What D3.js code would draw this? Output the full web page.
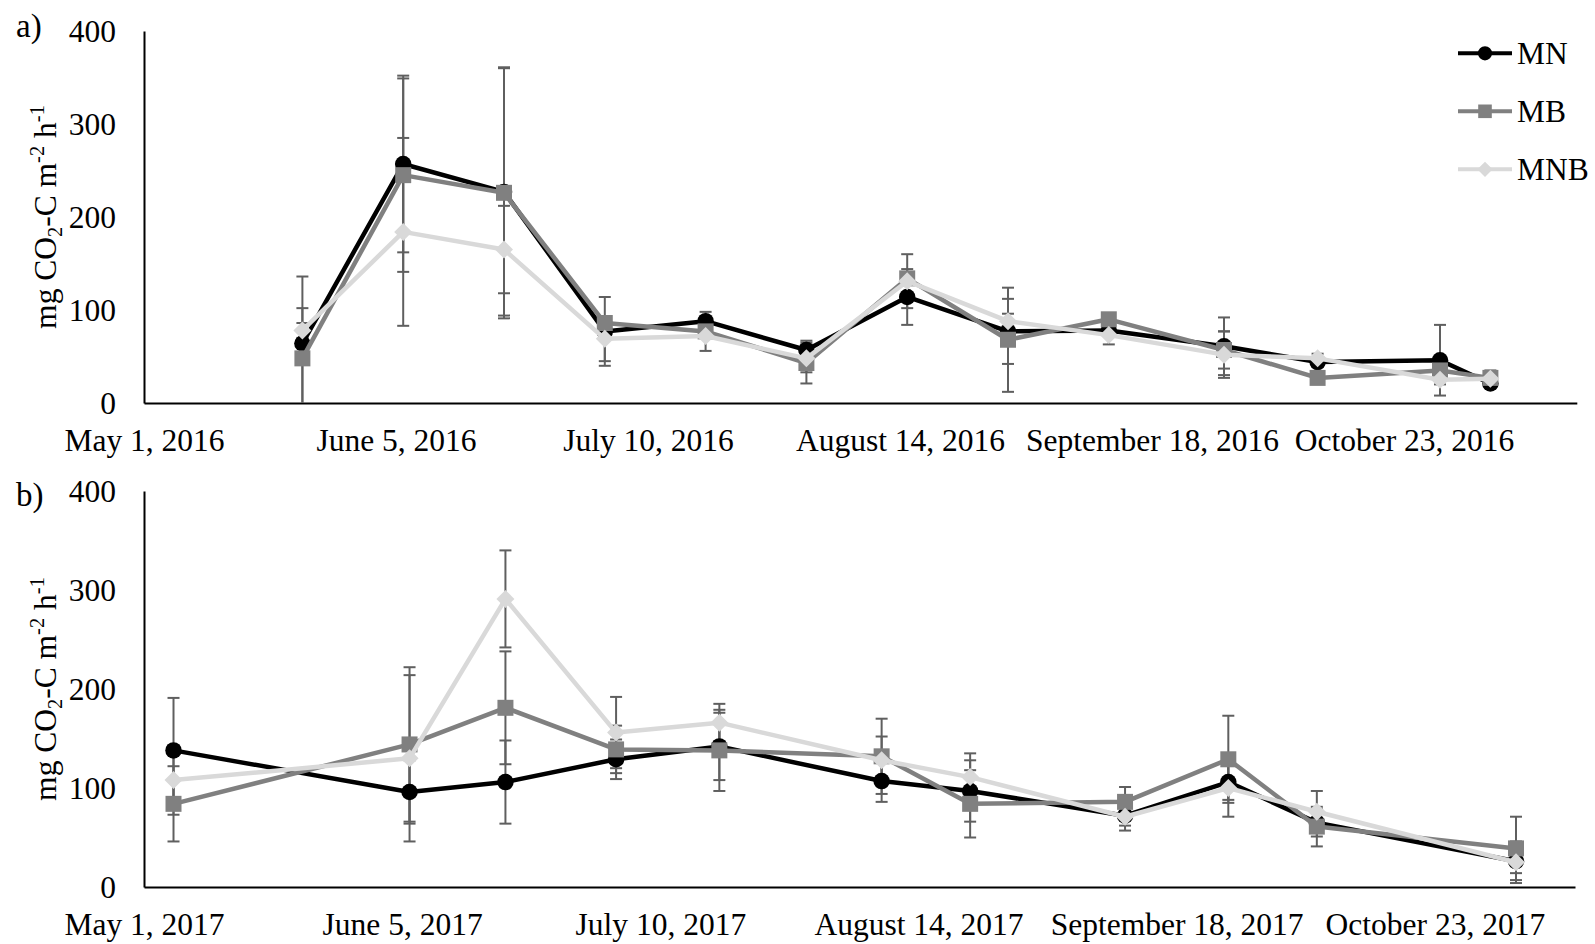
<!DOCTYPE html>
<html>
<head>
<meta charset="utf-8">
<script src="https://cdn.jsdelivr.net/npm/d3@7"></script>
<style>
  html, body { margin: 0; padding: 0; background: #ffffff; }
  svg { display: block; }
  text { font-family: "Liberation Serif", "Times New Roman", serif; fill: #000; }
</style>
</head>
<body>
<svg id="chart" width="1595" height="944"></svg>
<script>
// ---- data: soil CO2 flux (mg CO2-C m-2 h-1), mean and error per sampling date ----
const seriesNames = ["MN", "MB", "MNB"];
const yTicks = [0, 100, 200, 300, 400];

// 2016 season
const dates2016 = ["2016-05-23", "2016-06-06", "2016-06-20", "2016-07-04", "2016-07-18", "2016-08-01",
                   "2016-08-15", "2016-08-29", "2016-09-12", "2016-09-28", "2016-10-11", "2016-10-28", "2016-11-04"];
const mn2016  = [64, 257, 227, 77, 88, 57, 114, 77, 78, 61, 44, 46, 21];
const mb2016  = [48, 245, 226, 86, 77, 43, 134, 68, 90, 57, 27, 35, 27];
const mnb2016 = [78, 184, 165, 69, 72, 48, 131, 88, 73, 52, 48, 25, 26];
const mnErr2016  = [72, 95, 133, 37, 10, 10, 30, 35, 5, 31, 5, 38, 5];
const mbErr2016  = [54, 104, 135, 5, 5, 22, 5, 56, 5, 20, 5, 5, 8];
const mnbErr2016 = [8, 101, 47, 24, 16, 15, 29, 8, 10, 25, 5, 5, 5];
const ticks2016 = ["2016-05-01", "2016-06-05", "2016-07-10", "2016-08-14", "2016-09-18", "2016-10-23"];
const range2016 = ["2016-05-01", "2016-11-16"];

// 2017 season
const dates2017 = ["2017-05-05", "2017-06-06", "2017-06-19", "2017-07-04", "2017-07-18", "2017-08-09",
                   "2017-08-21", "2017-09-11", "2017-09-25", "2017-10-07", "2017-11-03"];
const mn2017  = [138, 96, 106, 129, 142, 107, 97, 72, 106, 65, 26];
const mb2017  = [84, 144, 181, 139, 138, 132, 84, 86, 129, 61, 39];
const mnb2017 = [108, 130, 291, 156, 166, 128, 111, 71, 100, 76, 25];
const mnErr2017  = [53, 32, 42, 20, 34, 21, 31, 10, 18, 14, 12];
const mbErr2017  = [38, 78, 57, 24, 41, 38, 34, 15, 44, 20, 32];
const mnbErr2017 = [35, 84, 49, 36, 19, 24, 24, 14, 29, 21, 21];
const ticks2017 = ["2017-05-01", "2017-06-05", "2017-07-10", "2017-08-14", "2017-09-18", "2017-10-23"];
const range2017 = ["2017-05-01", "2017-11-11"];

// ---- styling ----
const FONT = 31.5;
const colors = { MN: "#000000", MB: "#808080", MNB: "#d9d9d9" };
const errColor = "#5f5f5f";
const parseDate = d3.timeParse("%Y-%m-%d");
const fmtDate = d3.timeFormat("%B %-d, %Y");

const svg = d3.select("#chart");

const panels = [
  { tag: "a)", tagY: 37, dates: dates2016, values: [mn2016, mb2016, mnb2016], errs: [mnErr2016, mbErr2016, mnbErr2016],
    ticks: ticks2016, span: range2016, left: 144, right: 1576.8, top: 31, bottom: 403, legend: true },
  { tag: "b)", tagY: 506, dates: dates2017, values: [mn2017, mb2017, mnb2017], errs: [mnErr2017, mbErr2017, mnbErr2017],
    ticks: ticks2017, span: range2017, left: 144, right: 1575, top: 491, bottom: 887, legend: false }
];

function markerPath(name, size) {
  if (name === "MN") return d3.symbol(d3.symbolCircle, Math.PI * (size / 2) * (size / 2))();
  if (name === "MB") return d3.symbol(d3.symbolSquare, size * size)();
  const s = size / Math.SQRT2;
  return d3.symbol(d3.symbolSquare, s * s)();
}
function markerTransform(name, x, y) {
  return name === "MNB" ? `translate(${x},${y}) rotate(45)` : `translate(${x},${y})`;
}
const markerSize = { MN: 16.5, MB: 16, MNB: 18 };

panels.forEach(p => {
  const x = d3.scaleTime().domain(p.span.map(parseDate)).range([p.left, p.right]);
  const y = d3.scaleLinear().domain([0, 400]).range([p.bottom, p.top]);
  const g = svg.append("g");

  // y axis
  const ya = g.append("g").attr("transform", `translate(${p.left},0)`)
    .call(d3.axisLeft(y).tickValues(yTicks).tickSizeInner(0).tickSizeOuter(0).tickPadding(28));
  ya.attr("font-size", FONT).attr("font-family", null);
  ya.select(".domain").attr("stroke", "#000").attr("stroke-width", 2);

  // x axis
  const xa = g.append("g").attr("transform", `translate(0,${p.bottom})`)
    .call(d3.axisBottom(x).tickValues(p.ticks.map(parseDate)).tickFormat(fmtDate)
      .tickSizeInner(0).tickSizeOuter(0).tickPadding(25.5));
  xa.attr("font-size", FONT).attr("font-family", null);
  xa.select(".domain").attr("stroke", "#000").attr("stroke-width", 2.2);

  // panel tag
  g.append("text").attr("x", 16).attr("y", p.tagY).attr("font-size", 33).text(p.tag);

  // y axis title with sub/superscripts
  const yc = (p.top + p.bottom) / 2;
  const t = g.append("text").attr("transform", `translate(56,${yc}) rotate(-90)`)
    .attr("text-anchor", "middle").attr("font-size", FONT);
  t.append("tspan").text("mg CO");
  t.append("tspan").attr("font-size", FONT * 0.65).attr("dy", 6).text("2");
  t.append("tspan").attr("dy", -6).text("-C m");
  t.append("tspan").attr("font-size", FONT * 0.65).attr("dy", -12).text("-2");
  t.append("tspan").attr("dy", 12).text(" h");
  t.append("tspan").attr("font-size", FONT * 0.65).attr("dy", -12).text("-1");

  const pts = p.dates.map(parseDate);

  // error bars underneath all series
  const eg = g.append("g").attr("stroke", errColor).attr("stroke-width", 2).attr("fill", "none");
  p.values.forEach((vals, si) => {
    vals.forEach((v, i) => {
      const e = p.errs[si][i];
      const cx = x(pts[i]);
      const hi = v + e, lo = Math.max(0, v - e);
      eg.append("line").attr("x1", cx).attr("x2", cx).attr("y1", y(lo)).attr("y2", y(hi));
      eg.append("line").attr("x1", cx - 6).attr("x2", cx + 6).attr("y1", y(hi)).attr("y2", y(hi));
      if (v - e > 0) eg.append("line").attr("x1", cx - 6).attr("x2", cx + 6).attr("y1", y(lo)).attr("y2", y(lo));
    });
  });

  // series lines and markers
  p.values.forEach((vals, si) => {
    const name = seriesNames[si];
    const data = vals.map((v, i) => ({ d: pts[i], v }));
    const line = d3.line().x(d => x(d.d)).y(d => y(d.v));
    g.append("path").datum(data).attr("d", line).attr("fill", "none")
      .attr("stroke", colors[name]).attr("stroke-width", 4.5).attr("stroke-linejoin", "round");
    g.selectAll(null).data(data).join("path")
      .attr("d", markerPath(name, markerSize[name]))
      .attr("transform", d => markerTransform(name, x(d.d), y(d.v)))
      .attr("fill", colors[name]);
  });

  // legend
  if (p.legend) {
    const lg = g.append("g");
    seriesNames.forEach((name, i) => {
      const ly = 53.3 + i * 58;
      lg.append("line").attr("x1", 1458).attr("x2", 1512).attr("y1", ly).attr("y2", ly)
        .attr("stroke", colors[name]).attr("stroke-width", 4);
      lg.append("path").attr("d", markerPath(name, markerSize[name] * 0.85))
        .attr("transform", markerTransform(name, 1485, ly)).attr("fill", colors[name]);
      lg.append("text").attr("x", 1517).attr("y", ly).attr("dy", "0.33em")
        .attr("font-size", FONT).text(name);
    });
  }
});
</script>
</body>
</html>
